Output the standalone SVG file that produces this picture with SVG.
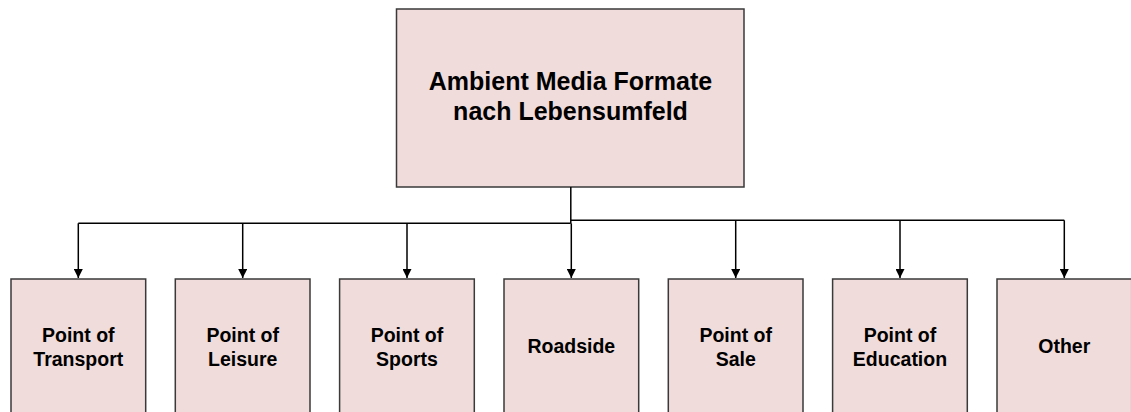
<svg xmlns="http://www.w3.org/2000/svg" width="1131" height="412" viewBox="0 0 1131 412">
<style>
.box{fill:#f0dcda;stroke:#3a3a3a;stroke-width:1.5}
.t{font-family:"Liberation Sans",Arial,sans-serif;font-weight:bold;fill:#000;text-anchor:middle}
.big{font-size:25px}
.sm{font-size:19.5px}
.ln{fill:none;stroke:#000;stroke-width:1.5}
</style>
<defs>
<marker id="ah" viewBox="0 0 10 10" refX="10" refY="5" markerWidth="9" markerHeight="9" markerUnits="userSpaceOnUse" orient="auto">
<path d="M0,0 L10,5 L0,10 Z" fill="#000"/>
</marker>
</defs>
<g id="root">
<rect class="box" x="396.5" y="9" width="347.5" height="178"/>
<text class="t big" x="570.5" y="90">Ambient Media Formate</text>
<text class="t big" x="570.5" y="120">nach Lebensumfeld</text>
</g>
<g id="connectors">
<path class="ln" d="M570.8,187 V223.3"/>
<path class="ln" d="M570.8,223.3 H78.3"/>
<path class="ln" d="M570.8,220.3 H1064.3"/>
<path class="ln" d="M78.3,223.3 V278" marker-end="url(#ah)"/>
<path class="ln" d="M242.7,223.3 V278" marker-end="url(#ah)"/>
<path class="ln" d="M407,223.3 V278" marker-end="url(#ah)"/>
<path class="ln" d="M571.3,223.3 V278" marker-end="url(#ah)"/>
<path class="ln" d="M735.7,220.3 V278" marker-end="url(#ah)"/>
<path class="ln" d="M900,220.3 V278" marker-end="url(#ah)"/>
<path class="ln" d="M1064.3,220.3 V278" marker-end="url(#ah)"/>
</g>
<g id="n1"><rect class="box" x="11" y="279" width="134.7" height="145"/><text class="t sm" x="78.3" y="341.7">Point of</text><text class="t sm" x="78.3" y="365.7">Transport</text></g>
<g id="n2"><rect class="box" x="175.3" y="279" width="134.7" height="145"/><text class="t sm" x="242.7" y="341.7">Point of</text><text class="t sm" x="242.7" y="365.7">Leisure</text></g>
<g id="n3"><rect class="box" x="339.6" y="279" width="134.7" height="145"/><text class="t sm" x="407" y="341.7">Point of</text><text class="t sm" x="407" y="365.7">Sports</text></g>
<g id="n4"><rect class="box" x="504" y="279" width="134.7" height="145"/><text class="t sm" x="571.3" y="353.3">Roadside</text></g>
<g id="n5"><rect class="box" x="668.3" y="279" width="134.7" height="145"/><text class="t sm" x="735.7" y="341.7">Point of</text><text class="t sm" x="735.7" y="365.7">Sale</text></g>
<g id="n6"><rect class="box" x="832.6" y="279" width="134.7" height="145"/><text class="t sm" x="900" y="341.7">Point of</text><text class="t sm" x="900" y="365.7">Education</text></g>
<g id="n7"><rect class="box" x="997" y="279" width="134.7" height="145"/><text class="t sm" x="1064.3" y="353.3">Other</text></g>
</svg>
